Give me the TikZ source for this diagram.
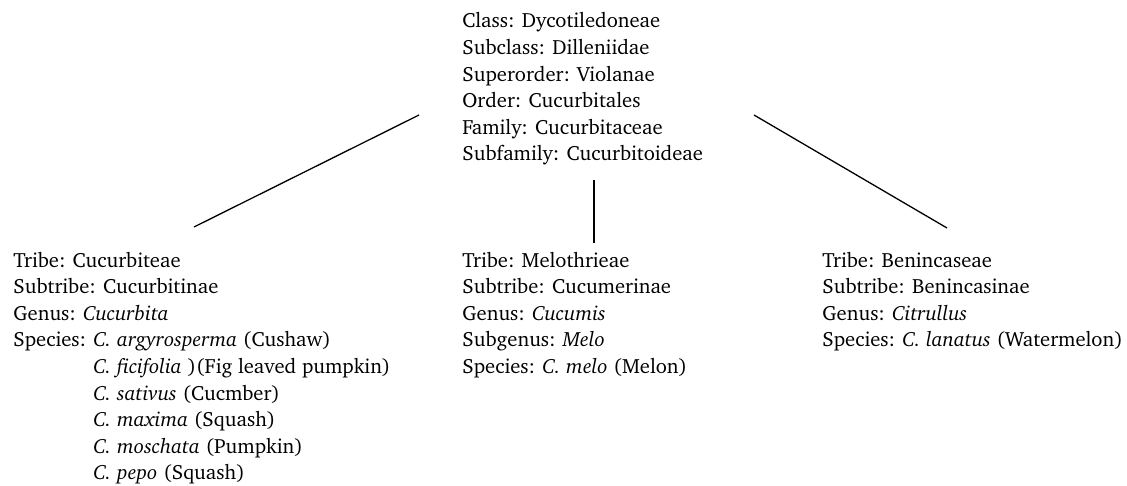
\documentclass[tikz,border=0pt]{standalone}
\usepackage[T1]{fontenc}
\usepackage{charter}
\usepackage{tikz}
\usetikzlibrary{positioning}
\newcommand{\taxlines}[1]{\begin{tabular}[t]{@{}l@{}}#1\end{tabular}}

\begin{document}
\begin{tikzpicture}[x=0.5pt, y=-0.5pt,
    taxon/.style={anchor=base west, inner sep=0pt, font=\fontsize{10.3}{13.3}\selectfont},
    branch/.style={line width=0.65pt}]
  \useasboundingbox (0,0) rectangle (1127,486);

  \node[taxon] (family) at (462,28) {\taxlines{Class: Dycotiledoneae\\ Subclass: Dilleniidae\\ Superorder: Violanae\\ Order: Cucurbitales\\ Family: Cucurbitaceae\\ Subfamily: Cucurbitoideae}};

  \node[taxon] (cucurbiteae) at (13,267) {\taxlines{Tribe: Cucurbiteae\\ Subtribe: Cucurbitinae\\ Genus: \textit{Cucurbita}\\
    Species: \textit{C. argyrosperma} (Cushaw)\\
    \hphantom{Species: }\textit{C. ficifolia} )(Fig leaved pumpkin)\\
    \hphantom{Species: }\textit{C. sativus} (Cucmber)\\
    \hphantom{Species: }\textit{C. maxima} (Squash)\\
    \hphantom{Species: }\textit{C. moschata} (Pumpkin)\\
    \hphantom{Species: }\textit{C. pepo} (Squash)}};
  \node[taxon] (melothrieae) at (462,267) {\taxlines{Tribe: Melothrieae\\ Subtribe: Cucumerinae\\ Genus: \textit{Cucumis}\\ Subgenus: \textit{Melo}\\ Species: \textit{C. melo} (Melon)}};
  \node[taxon] (benincaseae) at (822,267) {\taxlines{Tribe: Benincaseae\\ Subtribe: Benincasinae\\ Genus: \textit{Citrullus}\\ Species: \textit{C. lanatus} (Watermelon)}};

  % branch ends
  \coordinate (fam-l) at (419,115);
  \coordinate (fam-m) at (594,180);
  \coordinate (fam-r) at (754,115);
  \coordinate (cuc-top) at (194,227);
  \coordinate (mel-top) at (594,243);
  \coordinate (ben-top) at (947,228);

  \draw[branch] (fam-l) -- (cuc-top);
  \draw[branch] (fam-m) -- (mel-top);
  \draw[branch] (fam-r) -- (ben-top);
\end{tikzpicture}
\end{document}
